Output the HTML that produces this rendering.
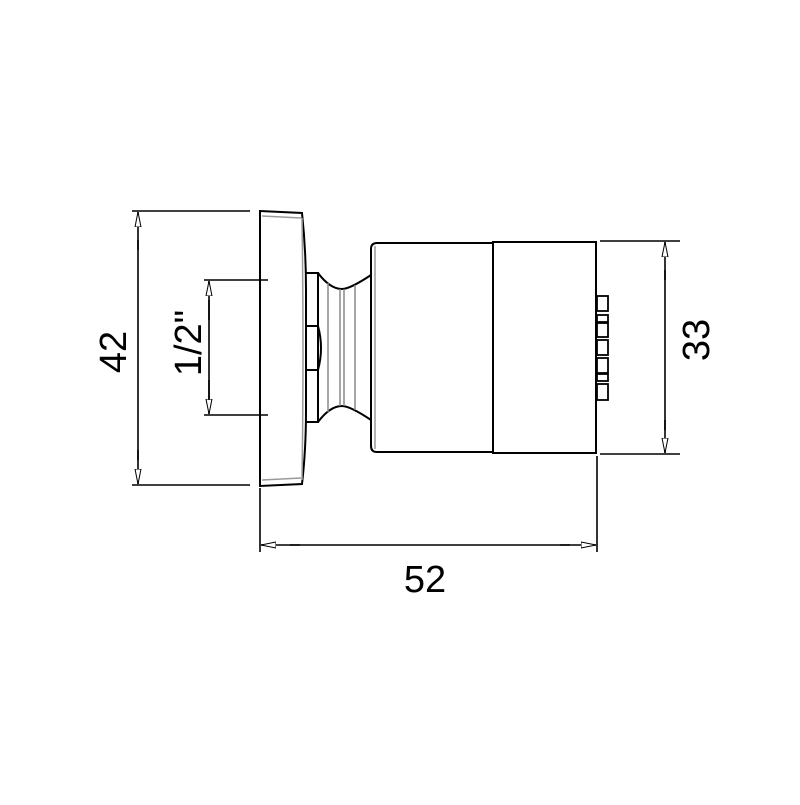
<!DOCTYPE html>
<html><head><style>html,body{margin:0;padding:0;background:#fff}</style></head>
<body>
<svg width="800" height="800" viewBox="0 0 800 800" xmlns="http://www.w3.org/2000/svg">
<defs>
<marker id="a" markerWidth="16" markerHeight="8" refX="15" refY="4" orient="auto" markerUnits="userSpaceOnUse">
<path d="M0,1 L15,4 L0,7 Z" fill="#fff" stroke="#000" stroke-width="1"/>
</marker>
</defs>
<g stroke="#000" stroke-width="2" fill="none">
<!-- wall plate -->
<path d="M260,211 L302,213 Q306,250 306,290 L306,410 Q306,450 302,484 L260,486 Z" fill="#fff"/>
<path d="M262,216 L301,218" stroke="#999" stroke-width="1.5"/>
<path d="M262,480 L301,478" stroke="#999" stroke-width="1.5"/>
<path d="M302,218 Q304,350 302,480" stroke="#999" stroke-width="1.5"/>
<!-- nut -->
<path d="M306,273 L318,273 L318,422 L306,422"/>
<path d="M306,326 L318,326 Q324,348 318,370 L306,370"/>
<!-- neck -->
<path d="M318,273 Q330,289 342,289 Q350,289 371,275"/>
<path d="M318,422 Q330,406 342,406 Q350,406 371,420"/>
<g stroke="#888" stroke-width="1.5">
<line x1="328" y1="283" x2="328" y2="412"/>
<line x1="340" y1="289" x2="340" y2="406"/>
<line x1="344" y1="289" x2="344" y2="406"/>
<line x1="355" y1="285" x2="355" y2="410"/>
</g>
<!-- body -->
<path d="M493,243 L377,243 Q371,243 371,249 L371,446 Q371,452 377,452 L493,452"/>
<line x1="375" y1="246" x2="375" y2="449" stroke="#999" stroke-width="1.5"/>
<!-- head -->
<rect x="493" y="242" width="103" height="211"/>
<!-- nozzles -->
<rect x="597" y="296" width="11" height="15" stroke-width="1.8"/>
<rect x="597" y="315" width="11" height="7" stroke-width="1.8"/>
<rect x="597" y="323" width="11" height="14" stroke-width="1.8"/>
<rect x="597" y="340" width="11" height="15" stroke-width="1.8"/>
<rect x="597" y="358" width="11" height="15" stroke-width="1.8"/>
<rect x="597" y="374" width="11" height="7" stroke-width="1.8"/>
<rect x="597" y="384" width="11" height="16" stroke-width="1.8"/>
</g>
<g stroke="#000" stroke-width="1.6" fill="none">
<!-- 42 -->
<line x1="132" y1="211" x2="250" y2="211"/>
<line x1="132" y1="485" x2="250" y2="485"/>
<line x1="138" y1="250" x2="138" y2="212" marker-end="url(#a)"/>
<line x1="138" y1="450" x2="138" y2="484" marker-end="url(#a)"/>
<line x1="138" y1="240" x2="138" y2="460"/>
<!-- 1/2 -->
<line x1="204" y1="280" x2="268" y2="280"/>
<line x1="204" y1="415" x2="268" y2="415"/>
<line x1="209" y1="320" x2="209" y2="281" marker-end="url(#a)"/>
<line x1="209" y1="380" x2="209" y2="414" marker-end="url(#a)"/>
<line x1="209" y1="300" x2="209" y2="400"/>
<!-- 33 -->
<line x1="600" y1="241" x2="680" y2="241"/>
<line x1="600" y1="454" x2="680" y2="454"/>
<line x1="665" y1="280" x2="665" y2="242" marker-end="url(#a)"/>
<line x1="665" y1="420" x2="665" y2="453" marker-end="url(#a)"/>
<line x1="665" y1="270" x2="665" y2="430"/>
<!-- 52 -->
<line x1="260" y1="488" x2="260" y2="552"/>
<line x1="597" y1="456" x2="597" y2="552"/>
<line x1="300" y1="545" x2="261" y2="545" marker-end="url(#a)"/>
<line x1="560" y1="545" x2="596" y2="545" marker-end="url(#a)"/>
<line x1="290" y1="545" x2="570" y2="545"/>
</g>
<g font-family="Liberation Sans, sans-serif" font-size="38" fill="#000" text-anchor="middle">
<text transform="translate(126,352) rotate(-90)">42</text>
<text transform="translate(201,343) rotate(-90)">1/2"</text>
<text transform="translate(709,340) rotate(-90)">33</text>
<text x="425" y="592">52</text>
</g>
</svg>
</body></html>
